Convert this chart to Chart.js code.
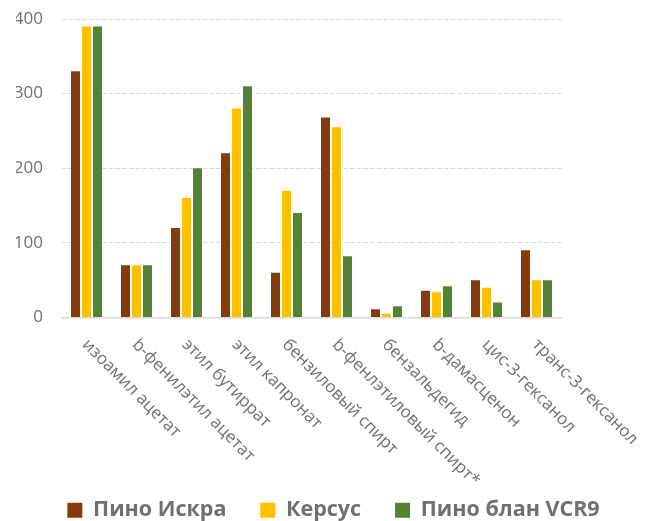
<!DOCTYPE html>
<html>
<head>
<meta charset="utf-8">
<script src="https://cdn.jsdelivr.net/npm/chart.js@4.4.1/dist/chart.umd.min.js"></script>
<style>
  html, body { margin: 0; padding: 0; background: #ffffff; }
  #wrap { width: 651px; height: 521px; }
</style>
</head>
<body>
<div id="wrap"><canvas id="chart" width="651" height="521"></canvas></div>
<script>
// Aroma compounds per wine sample
const categories = [
  'изоамил ацетат',
  'b-фенилэтил ацетат',
  'этил бутиррат',
  'этил капронат',
  'бензиловый спирт',
  'b-фенлэтиловый спирт*',
  'бензальдегид',
  'b-дамасценон',
  'цис-3-гексанол',
  'транс-3-гексанол'
];
const seriesNames = ['Пино Искра', 'Керсус', 'Пино блан VCR9'];
const pinoIskra = [330, 70, 120, 220, 60, 268, 11, 36, 50, 90];
const kersus    = [390, 70, 160, 280, 170, 255, 5, 34, 40, 50];
const pinoBlanc = [390, 70, 200, 310, 140, 82, 15, 42, 20, 50];
const yTicks = [0, 100, 200, 300, 400];

const colors = ['#843C0C', '#FFC000', '#548235'];
const textGray = '#707070';
const gridGray = '#d9d9d9';

// Category labels drawn diagonally, starting at each tick and running down-right
const slantedLabels = {
  id: 'slantedLabels',
  afterDraw(chart) {
    const xs = chart.scales.x;
    const ctx = chart.ctx;
    ctx.save();
    ctx.fillStyle = textGray;
    ctx.font = '17px "Open Sans"';
    ctx.textAlign = 'left';
    ctx.textBaseline = 'middle';
    categories.forEach((label, i) => {
      const px = xs.getPixelForValue(i);
      ctx.save();
      ctx.translate(px - 1.5, xs.top + 24.5);
      ctx.rotate(Math.PI / 4);
      ctx.fillText(label, 0, 0);
      ctx.restore();
    });
    ctx.restore();
  }
};

// Let the legend sit a little lower, close to the bottom edge
const legendNudge = {
  id: 'legendNudge',
  afterLayout(chart) {
    const lg = chart.legend;
    if (lg) { lg.top += 10; lg.bottom += 10; }
  }
};

const datasets = [pinoIskra, kersus, pinoBlanc].map((values, i) => ({
  label: seriesNames[i],
  data: values,
  backgroundColor: colors[i],
  borderWidth: 0,
  categoryPercentage: 0.66,
  barPercentage: 0.82
}));

new Chart(document.getElementById('chart'), {
  type: 'bar',
  data: { labels: categories, datasets },
  plugins: [slantedLabels, legendNudge],
  options: {
    responsive: false,
    animation: false,
    devicePixelRatio: 1,
    layout: { padding: { left: 16, right: 0, top: 19, bottom: 0 } },
    plugins: {
      tooltip: { enabled: false },
      legend: {
        position: 'bottom',
        align: 'center',
        labels: {
          boxWidth: 15,
          boxHeight: 15,
          padding: 33.9,
          color: textGray,
          font: { family: '"Open Sans"', size: 21.5, weight: 'bold' }
        }
      }
    },
    scales: {
      x: {
        grid: { display: false },
        border: { display: true, color: gridGray, width: 1.5 },
        ticks: { display: false },
        afterFit(s) { s.height = 138.1; }
      },
      y: {
        min: 0,
        max: 400,
        afterBuildTicks(s) { s.ticks = yTicks.map(v => ({ value: v })); },
        grid: {
          drawTicks: true,
          tickLength: 18.5,
          tickColor: 'rgba(0,0,0,0)',
          color: ctx => (ctx.tick && ctx.tick.value === 0) ? 'rgba(0,0,0,0)' : gridGray,
          lineWidth: 1
        },
        border: { display: false, dash: [4.5, 2.2] },
        ticks: {
          padding: 0,
          color: textGray,
          font: { family: '"Open Sans"', size: 17 }
        },
        afterFit(s) { s.width = 45.5; }
      },
      yRight: {
        position: 'right',
        display: true,
        grid: { display: false },
        border: { display: false },
        ticks: { display: false },
        afterFit(s) { s.width = 89.5; }
      }
    }
  }
});
</script>
</body>
</html>
